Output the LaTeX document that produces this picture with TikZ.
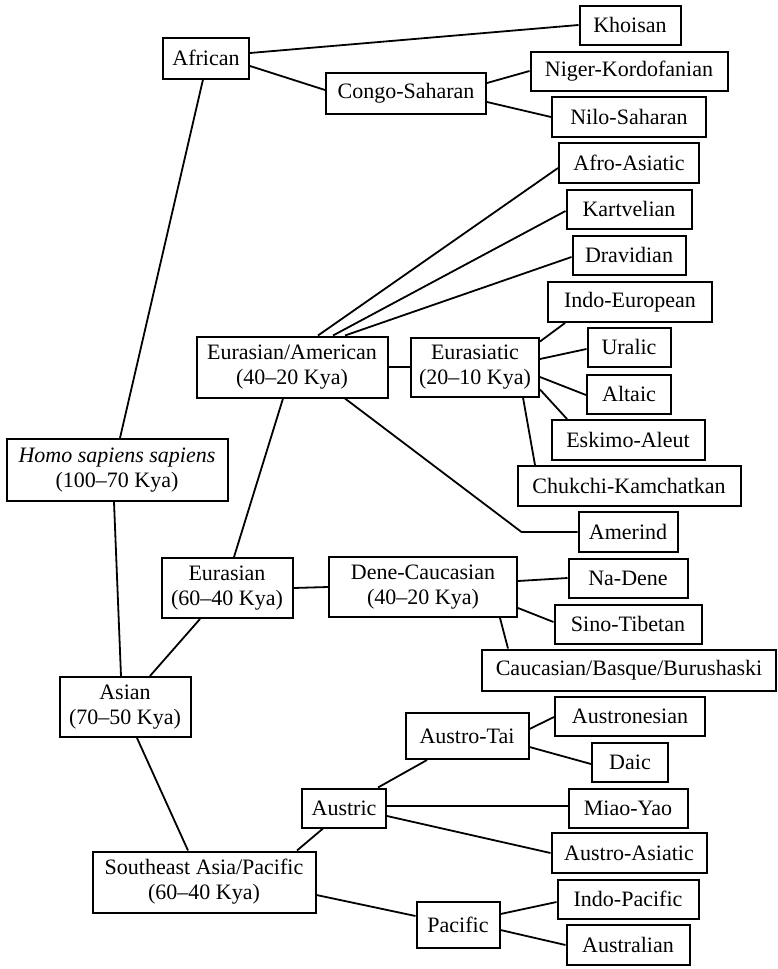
\documentclass[tikz,border=0pt]{standalone}
\usepackage{fontspec}
\setmainfont{Liberation Serif}
\begin{document}
\begin{tikzpicture}[x=1pt,y=-1pt,
  box/.style={draw,line width=2pt,inner sep=0pt,align=center,
    font=\fontsize{22}{25}\selectfont},
  link/.style={line width=1.8pt}]
\useasboundingbox (0,0) rectangle (777,969);
\tikzset{
  bx/.style n args={2}{box,minimum width=#1pt,minimum height=#2pt}}
\node[bx={86}{41}] (african) at (206,58) {African};
\node[bx={160}{41}] (congo) at (406,93) {Congo-Saharan};
\node[bx={101}{39}] (khoisan) at (630,25) {Khoisan};
\node[bx={197}{39}] (niger) at (629,71) {Niger-Kordofanian};
\node[bx={154}{40}] (nilo) at (629,117) {Nilo-Saharan};
\node[bx={140}{40}] (afro) at (629,163) {Afro-Asiatic};
\node[bx={125}{39}] (kart) at (629,209) {Kartvelian};
\node[bx={113}{39}] (drav) at (629,255) {Dravidian};
\node[bx={164}{40}] (indoeu) at (630,302) {Indo-European};
\node[bx={83}{39}] (uralic) at (629,347) {Uralic};
\node[bx={84}{39}] (altaic) at (629,394) {Altaic};
\node[bx={153}{40}] (eskimo) at (628,440) {Eskimo-Aleut};
\node[bx={223}{40}] (chukchi) at (629,486) {Chukchi-Kamchatkan};
\node[bx={99}{40}] (amerind) at (628,532) {Amerind};
\node[bx={119}{39}] (nadene) at (628,578) {Na-Dene};
\node[bx={147}{39}] (sino) at (628,624) {Sino-Tibetan};
\node[bx={294}{41}] (caucasian) at (629,670) {Caucasian/Basque/Burushaski};
\node[bx={150}{39}] (austronesian) at (630,716) {Austronesian};
\node[bx={76}{39}] (daic) at (630,762) {Daic};
\node[bx={119}{39}] (miao) at (628,808) {Miao-Yao};
\node[bx={155}{40}] (austroas) at (629,853) {Austro-Asiatic};
\node[bx={141}{39}] (indopac) at (628,899) {Indo-Pacific};
\node[bx={123}{40}] (australian) at (628,945) {Australian};
\node[bx={123}{46}] (austrotai) at (467,736) {Austro-Tai};
\node[bx={83}{46}] (pacific) at (458,925) {Pacific};
\node[bx={131}{60}] (asian) at (125,707) {Asian\\(70--50 Kya)};
\node[bx={84}{39}] (austric) at (344,808) {Austric};
\node[bx={223}{61}] (sea) at (204,882) {Southeast Asia/Pacific\\(60--40 Kya)};
\node[bx={191}{61}] (ea) at (292,367) {Eurasian/American\\(40--20 Kya)};
\node[bx={221}{62}] (homo) at (117,470) {\textit{Homo sapiens sapiens}\\(100--70 Kya)};
\node[bx={131}{60}] (eurasian) at (227,588) {Eurasian\\(60--40 Kya)};
\node[bx={188}{60}] (dene) at (423,587) {Dene-Caucasian\\(40--20 Kya)};
\node[bx={128}{59}] (eurasiatic) at (475,367) {Eurasiatic\\(20--10 Kya)};

\draw[link] ([yshift=5pt]african.east) -- (khoisan.west);
\draw[link] ([yshift=-8pt]african.east) -- ([yshift=3pt]congo.west);
\draw[link] ([yshift=10pt]congo.east) -- (niger.west);
\draw[link] ([yshift=-9pt]congo.east) -- (nilo.west);
\draw[link] ([xshift=-3pt]african.south) -- ([xshift=3pt]homo.north);
\draw[link] ([xshift=-3pt]homo.south) -- ([xshift=-4pt]asian.north);
\draw[link] ([xshift=25pt]asian.north) -- ([xshift=-27pt]eurasian.south);
\draw[link] ([xshift=7pt]eurasian.north) -- ([xshift=-9pt]ea.south);
\draw[link] (eurasian.east) -- (dene.west);
\draw[link] ([xshift=26pt]ea.north) -- ([yshift=-5pt]afro.west);
\draw[link] ([xshift=41pt]ea.north) -- ([yshift=-2pt]kart.west);
\draw[link] ([xshift=53pt]ea.north) -- ([yshift=-2pt]drav.west);
\draw[link] (ea.east) -- (eurasiatic.west);
\draw[link] ([xshift=53pt]ea.south) -- ([xshift=-56pt]amerind.west) -- (amerind.west);
\draw[link] ([yshift=-5pt]eurasiatic.north east) -- ([xshift=-65pt]indoeu.south);
\draw[link] ([yshift=8pt]eurasiatic.east) -- ([yshift=-2pt]uralic.west);
\draw[link] ([yshift=-10pt]eurasiatic.east) -- ([yshift=-1pt]altaic.west);
\draw[link] ([yshift=8pt]eurasiatic.south east) -- ([xshift=-61pt]eskimo.north);
\draw[link] ([xshift=48pt]eurasiatic.south) -- ([xshift=-94pt]chukchi.north);
\draw[link] ([yshift=6pt]dene.east) -- (nadene.west);
\draw[link] ([yshift=-21pt]dene.east) -- ([yshift=2pt]sino.west);
\draw[link] ([xshift=77pt]dene.south) -- ([xshift=-121pt]caucasian.north);
\draw[link] ([xshift=12pt]asian.south) -- ([xshift=-16pt]sea.north);
\draw[link] ([xshift=93pt]sea.north) -- ([xshift=-21pt]austric.south);
\draw[link] ([yshift=-13pt]sea.east) -- ([yshift=9pt]pacific.west);
\draw[link] ([xshift=34pt]austric.north) -- ([xshift=-40pt]austrotai.south);
\draw[link] ([yshift=2pt]austric.east) -- ([yshift=2pt]miao.west);
\draw[link] ([yshift=-8pt]austric.east) -- (austroas.west);
\draw[link] ([yshift=7pt]austrotai.east) -- ([yshift=-1pt]austronesian.west);
\draw[link] ([yshift=-11pt]austrotai.east) -- ([yshift=-2pt]daic.west);
\draw[link] ([yshift=11pt]pacific.east) -- ([yshift=-3pt]indopac.west);
\draw[link] ([yshift=-5pt]pacific.east) -- (australian.west);
\end{tikzpicture}
\end{document}
